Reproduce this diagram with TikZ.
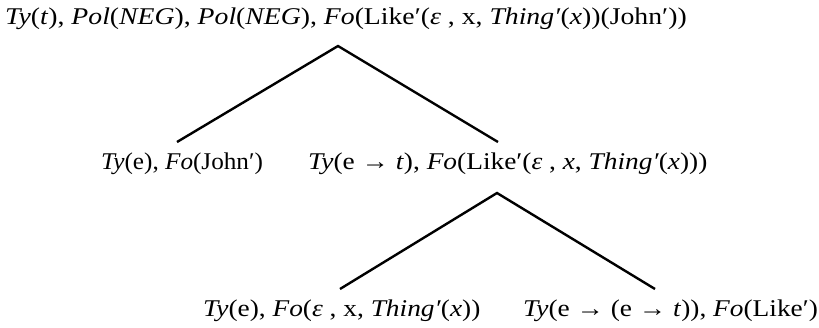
\documentclass[tikz,border=0pt]{standalone}
\usepackage{fontspec}
\setmainfont[FakeStretch=1.14]{Liberation Serif}
\newfontfamily\narrowrm[FakeStretch=1.05]{Liberation Serif}
\newfontfamily\wiserm[FakeStretch=1.155]{Liberation Serif}
\begin{document}
\begin{tikzpicture}[x=1pt,y=-1pt,
  lbl/.style={anchor=base west,inner sep=0pt,font=\fontsize{24}{28}\selectfont},
  edge/.style={line width=2.4pt,line cap=butt,line join=miter}]
\useasboundingbox (0,0) rectangle (819,327);
\node[lbl,font=\fontsize{24}{28}\selectfont\wiserm] (top) at (5,24) {\textit{Ty}(\textit{t}), \textit{Pol}(\textit{NEG}), \textit{Pol}(\textit{NEG}), \textit{Fo}(Like′(\textit{ε} , x, \textit{Thing′}(\textit{x}))(John′))};
\node[lbl,font=\fontsize{24}{28}\selectfont\narrowrm] (l) at (101,169) {\textit{Ty}(e), \textit{Fo}(John′)};
\node[lbl] (r) at (308,169) {\textit{Ty}(e → \textit{t}), \textit{Fo}(Like′(\textit{ε} , \textit{x}, \textit{Thing′}(\textit{x})))};
\node[lbl] (rl) at (203,316) {\textit{Ty}(e), \textit{Fo}(\textit{ε} , x, \textit{Thing′}(\textit{x}))};
\node[lbl] (rr) at (523,316) {\textit{Ty}(e → (e → \textit{t})), \textit{Fo}(Like′)};
\coordinate (a1) at (338,46);
\coordinate (a1l) at (177,142);
\coordinate (a1r) at (498,142);
\coordinate (a2) at (497,193);
\coordinate (a2l) at (340,289);
\coordinate (a2r) at (655,289);
\draw[edge] (a1l) -- (a1) -- (a1r);
\draw[edge] (a2l) -- (a2) -- (a2r);
\end{tikzpicture}
\end{document}
